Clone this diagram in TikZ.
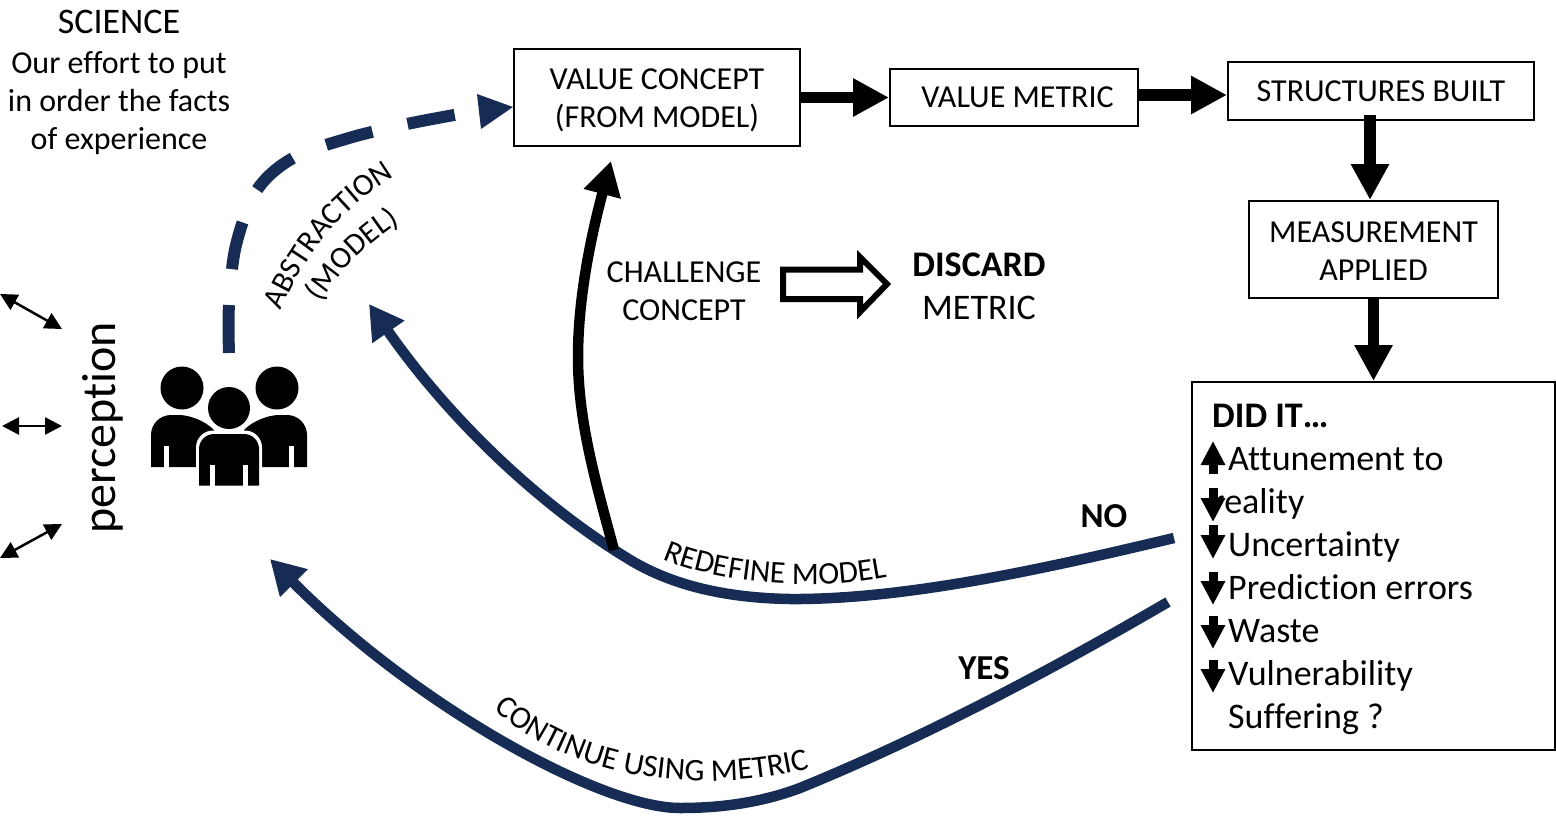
\documentclass[tikz,border=0pt]{standalone}
\usepackage{fontspec}
\setmainfont[Ligatures={NoCommon}]{Carlito}
\usetikzlibrary{arrows.meta,decorations.text,calc}
\definecolor{navy}{HTML}{172C54}
\newcommand{\fs}[1]{\fontsize{#1}{#1}\selectfont}
\tikzset{
  mbox/.style={draw=black,line width=2pt,fill=white,align=center,font=\fs{32},inner sep=0pt},
  txt/.style={align=center,font=\fs{32},inner sep=0pt},
  listitem/.style={anchor=base west,font=\fs{36},inner sep=0pt},
  blockarrow/.style={line width=11.5pt,-{Triangle[length=36pt,width=36pt]}},
  blackcurve/.style={line width=10.5pt,-{Triangle[length=34pt,width=36pt]}},
  navycurve/.style={draw=navy,line width=10.5pt,-{Triangle[length=34pt,width=37pt]},color=navy},
  dasharrow/.style={draw=navy,color=navy,line width=12pt,dash pattern=on 48pt off 36pt},
  dblarrow/.style={line width=2.5pt,{Triangle[length=17pt,width=17pt]}-{Triangle[length=17pt,width=17pt]}},
  smallup/.style={line width=9pt,-{Triangle[length=24pt,width=23pt]}},
  curvedlabel/.style={decorate,decoration={text along path,text align=center,raise=0pt}},
}
\begin{document}
\begin{tikzpicture}[x=1pt,y=-1pt]
\useasboundingbox (0,0) rectangle (1556,822);
% boxes
\node[mbox,minimum width=286pt,minimum height=97pt] (concept) at (657,97.5) {\rule{0pt}{27pt}VALUE CONCEPT\\[6pt](FROM MODEL)};
\node[mbox,minimum width=248pt,minimum height=57pt] (metric) at (1014,97.5) {\hspace*{7pt}VALUE METRIC};
\node[mbox,minimum width=306pt,minimum height=58pt] (structures) at (1381,91) {STRUCTURES BUILT};
\node[mbox,minimum width=249pt,minimum height=97pt] (measure) at (1373.5,249.5) {\rule{0pt}{23pt}MEASUREMENT\\[6pt]APPLIED};
\node[draw=black,line width=2pt,minimum width=363pt,minimum height=368pt,inner sep=0pt] (did) at (1373.5,566) {};
% box texts
\node[listitem,font=\fs{36}\bfseries] (didt) at (1212,427) {DID IT…};
\node[listitem] (l1) at (1228,470) {Attunement to};
\node[listitem] (l2) at (1212,513) {reality};
\node[listitem] (l3) at (1228,556) {Uncertainty};
\node[listitem] (l4) at (1228,599) {Prediction errors};
\node[listitem] (l5) at (1228,642) {Waste};
\node[listitem] (l6) at (1228,685) {Vulnerability};
\node[listitem] (l7) at (1228,728) {Suffering ?};
% small up/down arrows
\draw[smallup] (1213,474) -- (1213,441);
\draw[smallup] (1213,488) -- (1213,522);
\draw[smallup] (1213,525) -- (1213,559);
\draw[smallup] (1213,572) -- (1213,605);
\draw[smallup] (1213,616) -- (1213,649);
\draw[smallup] (1213,660) -- (1213,693);
% top-left text
\node[txt,font=\fs{36}] (sci) at (119,22) {SCIENCE};
\node[txt] (eff) at (119,103) {Our effort to put\\[6pt]in order the facts\\[6pt]of experience};
% flow arrows
\draw[blockarrow] (concept.east) -- (metric.west);
\draw[blockarrow] ([yshift=2.5pt]metric.east) -- ([yshift=-4pt]structures.west);
\draw[blockarrow] ([xshift=-11pt,yshift=6pt]structures.south) -- ([xshift=-3.5pt]measure.north);
\draw[blockarrow] (measure.south) -- (did.north);
% people icon
\node[minimum width=158pt,minimum height=118pt,inner sep=0pt] (people) at (229,427) {};
\begin{scope}[shift={(229,427)}]
  \fill (-47,-39) circle (21.5);
  \fill (48,-39) circle (21.5);
  \fill (-78,40) [rounded corners=20pt] -- (-78,-12) -- (-30,-12) [sharp corners] -- (-15,3) -- (-15,40) -- cycle;
  \fill (78,40) [rounded corners=20pt] -- (78,-12) -- (30,-12) [sharp corners] -- (15,3) -- (15,40) -- cycle;
  \fill[white] (-65,40.5) rectangle (-60,19);
  \fill[white] (60,19) rectangle (65,40.5);
  \fill[white] (-33,62) [rounded corners=17pt] -- (-33,3.5) -- (33,3.5) [sharp corners] -- (33,62) -- cycle;
  \fill[white] (0,-19) circle (24.5);
  \fill (0,-19) circle (21);
  \fill (-30,58.5) [rounded corners=15pt] -- (-30,7) -- (30,7) [sharp corners] -- (30,58.5) -- cycle;
  \fill[white] (-19,59) rectangle (-14,38);
  \fill[white] (14,38) rectangle (19,59);
\end{scope}
% perception
\node[rotate=90,font=\fs{48},inner sep=0pt] (perc) at (102.5,428) {perception};
\coordinate (a1) at (0,294); \coordinate (a2) at (62,329);
\coordinate (b1) at (2,426); \coordinate (b2) at (62,426);
\coordinate (c1) at (0,558); \coordinate (c2) at (62,524);
\draw[dblarrow] (a1) -- (a2);
\draw[dblarrow] (b1) -- (b2);
\draw[dblarrow] (c1) -- (c2);
% dashed arrow
\draw[dasharrow] plot[smooth,tension=0.55] coordinates {(229,353) (229,305) (236,245) (257,190) (293,158) (349,138) (407,124) (465,113)};
\fill[navy] (513,107) -- (477,94) -- (481,129) -- cycle;
% curves
\coordinate (redef) at (614,550);
\coordinate (noStart) at (1174,538);
\coordinate (yesStart) at (1168,602);
\coordinate (absTip) at (369,304);
\coordinate (peopleTip) at (270,559);
\coordinate (conceptTip) at (611,161);
\draw[navycurve] (noStart) .. controls (1060,565) and (910,600) .. (790,599) .. controls (725,598) and (670,585) .. (627,558) .. controls (540,505) and (450,420) .. (absTip);
\draw[blackcurve] (redef) .. controls (595,480) and (578,420) .. (578,357) .. controls (578,300) and (590,240) .. (conceptTip);
\draw[navycurve] (yesStart) .. controls (1060,665) and (930,735) .. (800,788) .. controls (760,803) and (720,808) .. (680,808) .. controls (600,808) and (415,705) .. (peopleTip);
% labels
\node[font=\fs{35}\bfseries,inner sep=0pt] (no) at (1104,516) {NO};
\node[font=\fs{35}\bfseries,inner sep=0pt] (yes) at (984,668) {YES};
\node[txt] (chal) at (684,291) {CHALLENGE\\[6pt]CONCEPT};
\node[font=\fs{36}\bfseries,inner sep=0pt] (disc) at (979,265) {DISCARD};
\node[font=\fs{36},inner sep=0pt] (metr) at (979,308) {METRIC};
\draw[line width=6pt,fill=white,miter limit=10] (783,269.5) -- (860,269.5) -- (860,257) -- (887,284) -- (860,312) -- (860,299) -- (783,299) -- cycle;
\path[curvedlabel,decoration={text={|\fs{31.5}|REDEFINE MODEL}}] (658,557) .. controls (700,578) and (800,595) .. (892,576);
\path[curvedlabel,decoration={text={|\fs{31.5}|CONTINUE USING METRIC}}] (492,708) .. controls (560,770) and (680,800) .. (812,768);
\path[curvedlabel,decoration={text={|\fs{31}|ABSTRACTION}}] (282,308) .. controls (305,255) and (340,210) .. (392,178);
\path[curvedlabel,decoration={text={|\fs{31}|(MODEL)}}] (316,310) .. controls (338,272) and (368,242) .. (408,218);
\end{tikzpicture}
\end{document}
